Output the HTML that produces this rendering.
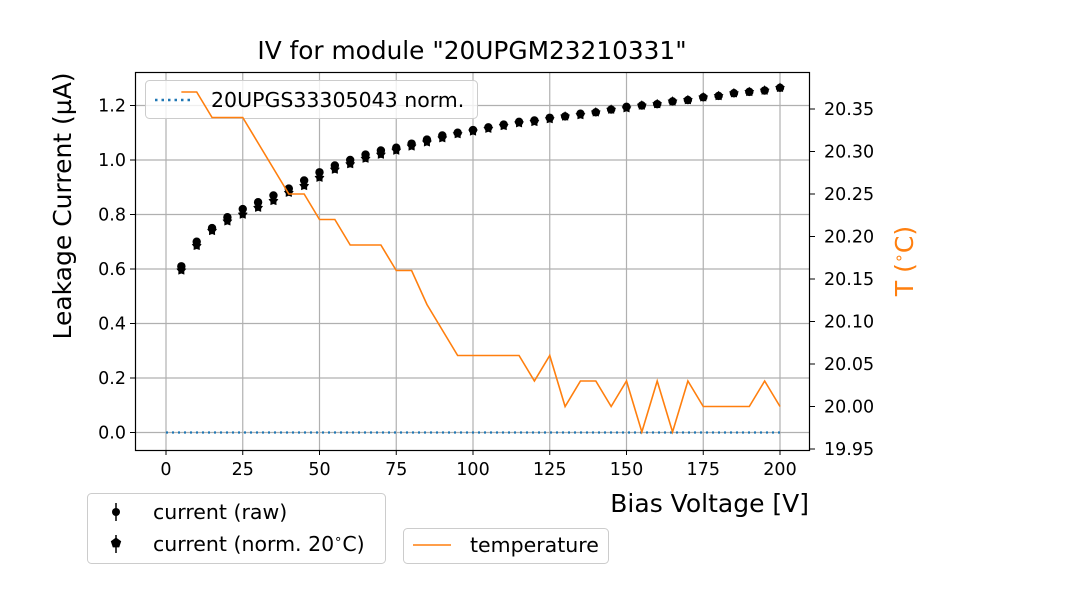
<!DOCTYPE html>
<html><head><meta charset="utf-8"><style>
body{margin:0;background:#fff;}
svg{display:block;font-family:"DejaVu Sans","Liberation Sans",sans-serif;}
</style></head><body>
<svg id="chart" width="1080" height="600">
<rect width="1080" height="600" fill="#fff"/>
<text x="472" y="59" font-size="24.8" text-anchor="middle">IV for module "20UPGM23210331"</text>
<g id="grid"></g><g id="ref"></g><g id="pts"></g>
<g>
<rect x="145.5" y="80.5" width="332" height="38" rx="4" fill="#fff" fill-opacity="0.8" stroke="#ccc"/>
<line x1="155" y1="100" x2="191" y2="100" stroke="#1f77b4" stroke-width="2.5" stroke-dasharray="2.5,4"/>
<text x="211" y="107" font-size="20.5">20UPGS33305043 norm.</text></g>
<g id="temp"></g>
<rect x="135.5" y="72.5" width="674" height="378" fill="none" stroke="#000" stroke-width="1.2"/>
<g id="axes"></g>
<text x="809" y="512" font-size="25" text-anchor="end">Bias Voltage [V]</text>
<text transform="translate(71,206) rotate(-90)" font-size="25" text-anchor="middle">Leakage Current (µA)</text>
<text transform="translate(913,261) rotate(-90)" font-size="25" fill="#ff7f0e" text-anchor="middle">T (<tspan font-size="16" dy="-9">∘</tspan><tspan dy="9">C)</tspan></text>
<g>
<rect x="87.5" y="493.5" width="298" height="70" rx="4" fill="#fff" stroke="#ccc"/>
<line x1="116" y1="503" x2="116" y2="521" stroke="#000" stroke-width="1.5"/><circle cx="116" cy="512" r="4" fill="#000"/>
<text x="153" y="519" font-size="20.5">current (raw)</text>
<line x1="116" y1="535" x2="116" y2="553" stroke="#000" stroke-width="1.5"/>
<polygon points="116,537.5 121.2,541.3 119.2,547.4 112.8,547.4 110.8,541.3" fill="#000"/>
<text x="153" y="551" font-size="20.5">current (norm. 20<tspan font-size="13" dy="-8">∘</tspan><tspan dy="8">C)</tspan></text></g>
<g>
<rect x="403.5" y="528.5" width="205" height="35" rx="4" fill="#fff" stroke="#ccc"/>
<line x1="413" y1="545" x2="451" y2="545" stroke="#ff7f0e" stroke-width="1.5"/>
<text x="470" y="552" font-size="20.5">temperature</text></g>
</svg>
<script>
const voltages=[5,10,15,20,25,30,35,40,45,50,55,60,65,70,75,80,85,90,95,100,105,110,115,120,125,130,135,140,145,150,155,160,165,170,175,180,185,190,195,200];
const currentRaw=[0.61,0.70,0.75,0.79,0.82,0.845,0.87,0.895,0.925,0.955,0.98,1.0,1.02,1.035,1.045,1.06,1.075,1.09,1.10,1.11,1.12,1.13,1.14,1.145,1.155,1.16,1.17,1.175,1.185,1.195,1.2,1.205,1.215,1.22,1.23,1.235,1.245,1.25,1.255,1.265];
const currentNorm=[0.595,0.685,0.74,0.775,0.80,0.825,0.85,0.88,0.905,0.935,0.965,0.985,1.005,1.02,1.035,1.05,1.065,1.08,1.095,1.105,1.115,1.125,1.135,1.14,1.15,1.16,1.165,1.175,1.185,1.19,1.2,1.205,1.215,1.22,1.23,1.235,1.245,1.25,1.255,1.265];
const temperature=[20.37,20.37,20.34,20.34,20.34,20.31,20.28,20.25,20.25,20.22,20.22,20.19,20.19,20.19,20.16,20.16,20.12,20.09,20.06,20.06,20.06,20.06,20.06,20.03,20.06,20.00,20.03,20.03,20.00,20.03,19.97,20.03,19.97,20.03,20.00,20.00,20.00,20.00,20.03,20.00];
const refNorm=[0,0,0,0,0,0,0,0,0,0,0,0,0,0,0,0,0,0,0,0,0,0,0,0,0,0,0,0,0,0,0,0,0,0,0,0,0,0,0,0];
const xTicks=[0,25,50,75,100,125,150,175,200];
const yTicks=[0.0,0.2,0.4,0.6,0.8,1.0,1.2];
const tTicks=[19.95,20.00,20.05,20.10,20.15,20.20,20.25,20.30,20.35];
const NS='http://www.w3.org/2000/svg';
const X=v=>166+v*3.07;
const Y=v=>432.5-v*272.5;
const T=t=>406.5-(t-20)*850;
function mk(tag,attrs,parent,txt){const e=document.createElementNS(NS,tag);for(const k in attrs)e.setAttribute(k,attrs[k]);if(txt!==undefined)e.textContent=txt;document.getElementById(parent).appendChild(e);return e;}
xTicks.forEach(v=>{
 const g=mk('line',{x1:X(v),x2:X(v),y1:72,y2:450,stroke:'#b0b0b0','stroke-width':1.2},'grid');
 
 
 mk('line',{x1:X(v),x2:X(v),y1:450,y2:455,stroke:'#000'},'axes');
 const t=mk('text',{x:X(v),y:475,'font-size':17.5,'text-anchor':'middle'},'axes',String(v));
 
 
});
yTicks.forEach(v=>{
 const g=mk('line',{x1:135,x2:810,y1:Y(v),y2:Y(v),stroke:'#b0b0b0','stroke-width':1.2},'grid');
 
 
 mk('line',{x1:130,x2:135,y1:Y(v),y2:Y(v),stroke:'#000'},'axes');
 const t=mk('text',{x:126,y:Y(v)+6,'font-size':17.5,'text-anchor':'end'},'axes',v.toFixed(1));
 
 
});
tTicks.forEach(v=>{
 mk('line',{x1:810,x2:815,y1:T(v),y2:T(v),stroke:'#000'},'axes');
 const t=mk('text',{x:824,y:T(v)+6,'font-size':17.5},'axes',v.toFixed(2));
 
 
});
const tp=mk('polyline',{points:voltages.map((v,i)=>X(v)+','+T(temperature[i])).join(' '),fill:'none',stroke:'#ff7f0e','stroke-width':1.6},'temp');


const rp=mk('polyline',{points:[0].concat(voltages).map((v,i)=>X(v)+','+Y(i==0?0:refNorm[i-1])).join(' '),fill:'none',stroke:'#1f77b4','stroke-width':2.2,'stroke-dasharray':'2,4'},'ref');


voltages.forEach((v,i)=>{
 const c=mk('circle',{cx:X(v),cy:Y(currentRaw[i]),r:4.2,fill:'#000'},'pts');
 
 
 const x=X(v),y=Y(currentNorm[i]),r=5.2;
 const pts=[];for(let k=0;k<5;k++){const a=-Math.PI/2+k*2*Math.PI/5;pts.push((x+r*Math.cos(a)).toFixed(1)+','+(y+r*Math.sin(a)).toFixed(1));const b=a+Math.PI/5;pts.push((x+r*0.6*Math.cos(b)).toFixed(1)+','+(y+r*0.6*Math.sin(b)).toFixed(1));}
 const s=mk('polygon',{points:pts.join(' '),fill:'#000'},'pts');
 
 
});
</script>
</body></html>
